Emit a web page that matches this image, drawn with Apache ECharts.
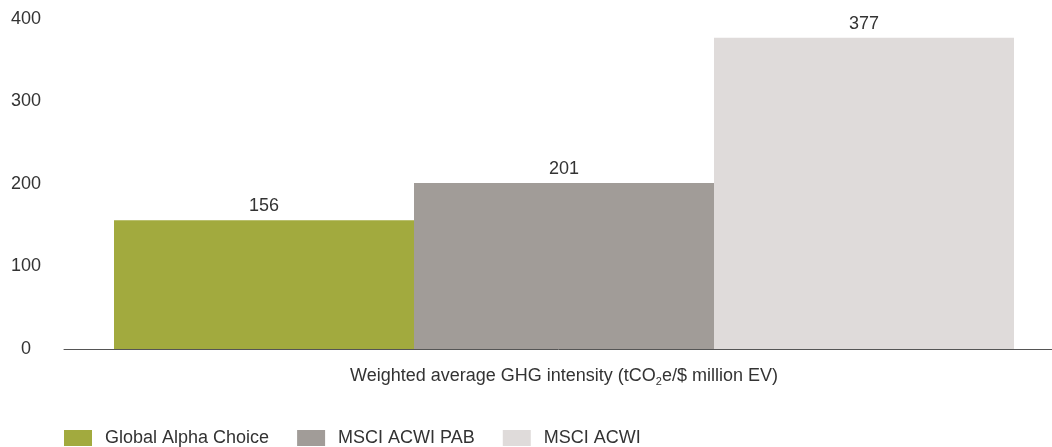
<!DOCTYPE html>
<html><head><meta charset="utf-8">
<script src="https://cdn.jsdelivr.net/npm/echarts@6/dist/echarts.min.js"></script>
<style>html,body{margin:0;padding:0;background:#fff}#c{width:1052px;height:447px}</style>
</head><body><div id="c"></div>
<script>
const categories = ['Weighted average GHG intensity (tCO2e/$ million EV)'];
const seriesNames = ['Global Alpha Choice', 'MSCI ACWI PAB', 'MSCI ACWI'];
const seriesValues = [[156], [201], [377]];
const yTicks = [0, 100, 200, 300, 400];
const colors = ['#a2aa3e', '#a19c98', '#dfdbda'];

const chart = echarts.init(document.getElementById('c'));
const font = 'Liberation Sans, Arial, Helvetica, sans-serif';
chart.setOption({
  animation: false,
  textStyle: { fontFamily: font },
  grid: { left: 64, width: 1000, top: 18.7, bottom: 98, containLabel: false, outerBoundsMode: 'none' },
  legend: {
    left: 64, top: 429, padding: 0, itemWidth: 28, itemHeight: 16, itemGap: 28,
    icon: 'rect',
    textStyle: { fontSize: 18, color: '#333', fontFamily: font, padding: [0, 0, 0, 8] },
    data: seriesNames
  },
  xAxis: {
    type: 'category', data: categories,
    axisLine: { lineStyle: { color: '#555', width: 1 } },
    axisTick: { show: false },
    axisLabel: {
      margin: 14, color: '#333', fontSize: 18, fontFamily: font,
      formatter: function (v) {
        const parts = v.split('CO2');
        return '{a|' + parts[0] + 'CO}{s|2}{a|' + parts[1] + '}';
      },
      rich: {
        a: { fontSize: 18, color: '#333', fontFamily: font, lineHeight: 22, verticalAlign: 'bottom' },
        s: { fontSize: 11, color: '#333', fontFamily: font, lineHeight: 22, verticalAlign: 'bottom', padding: [0, 0, -2, 0] }
      }
    }
  },
  yAxis: {
    type: 'value', min: yTicks[0], max: yTicks[yTicks.length - 1], interval: 100,
    splitLine: { show: false },
    axisLine: { show: false }, axisTick: { show: false },
    axisLabel: { margin: 38, align: 'center', color: '#333', fontSize: 18, fontFamily: font }
  },
  series: seriesNames.map((n, i) => ({
    name: n, type: 'bar', data: seriesValues[i],
    barGap: 0, barCategoryGap: '10%',
    itemStyle: { color: colors[i] },
    label: { show: true, position: 'top', distance: 5, color: '#333', fontSize: 18, fontFamily: font }
  }))
});
</script></body></html>
